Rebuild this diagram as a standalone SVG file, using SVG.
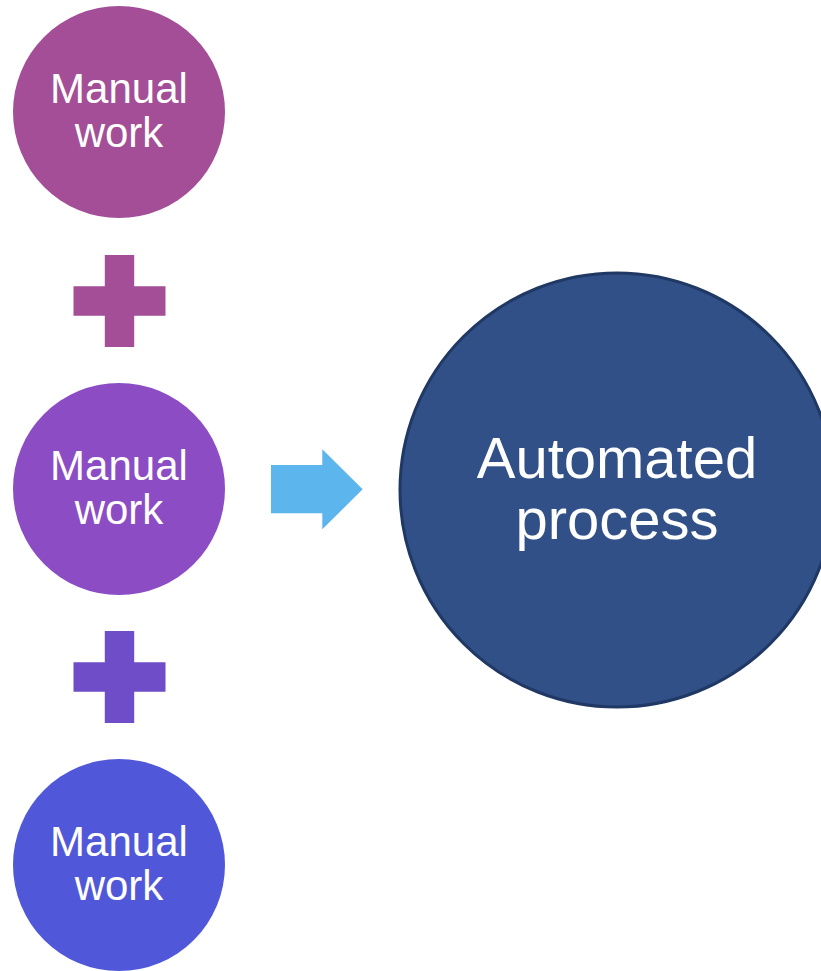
<svg xmlns="http://www.w3.org/2000/svg" width="821" height="971" viewBox="0 0 821 971">
<style>
.lbl{font-family:"Liberation Sans",Arial,sans-serif;fill:#ffffff;text-anchor:middle}
.sm{font-size:42px}
.lg{font-size:58px}
</style>
<defs>
<path id="plus" d="M-14.7,-46 H14.7 V-14.7 H46 V14.7 H14.7 V46 H-14.7 V14.7 H-46 V-14.7 H-14.7 Z"/>
</defs>
<rect width="821" height="971" fill="#ffffff"/>
<g id="manual1">
<circle cx="119" cy="112" r="106" fill="#A34E96"/>
<text class="lbl sm" x="119" y="103">Manual</text>
<text class="lbl sm" x="119" y="147">work</text>
</g>
<g id="plus1"><use href="#plus" x="119.5" y="301" fill="#A34E96"/></g>
<g id="manual2">
<circle cx="119" cy="489" r="106" fill="#8B4CC4"/>
<text class="lbl sm" x="119" y="480">Manual</text>
<text class="lbl sm" x="119" y="524">work</text>
</g>
<g id="plus2"><use href="#plus" x="119.5" y="677" fill="#6F4DC9"/></g>
<g id="manual3">
<circle cx="119" cy="865" r="106" fill="#5058D9"/>
<text class="lbl sm" x="119" y="856">Manual</text>
<text class="lbl sm" x="119" y="900">work</text>
</g>
<g id="connectors">
<path d="M271,465 H322.3 V449.3 L362.7,489.3 L322.3,529.3 V513.3 H271 Z" fill="#5CB5EC"/>
</g>
<g id="automated">
<circle cx="617" cy="490" r="217" fill="#315087" stroke="#203864" stroke-width="3"/>
<text class="lbl lg" x="617" y="478">Automated</text>
<text class="lbl lg" x="617" y="539">process</text>
</g>
</svg>
